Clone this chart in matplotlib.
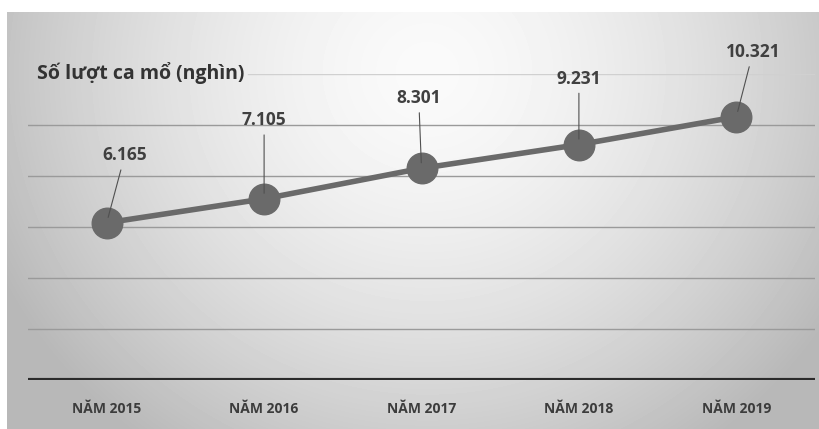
import matplotlib.pyplot as plt
import numpy as np

years = ["NĂM 2015", "NĂM 2016", "NĂM 2017", "NĂM 2018", "NĂM 2019"]
values = [6.165, 7.105, 8.301, 9.231, 10.321]
labels = ["6.165", "7.105", "8.301", "9.231", "10.321"]
# label offsets (points) from each marker
offsets = [(13, 42), (0, 50), (-2, 44), (0, 41), (12, 40)]
title = "Số lượt ca mổ (nghìn)"

W, H = 819, 429
fig = plt.figure(figsize=(W / 100, H / 100), dpi=100)
fig.patch.set_facecolor("white")

# gradient background panel
bg = fig.add_axes([7 / W, 0, 1 - 7 / W, (H - 12) / H])
yy, xx = np.mgrid[0:417, 0:812]
d = np.sqrt(((xx - 420) / 500) ** 2 + ((yy - 60) / 480) ** 2)
shade = np.clip(0.98 - 0.28 * d ** 1.6, 0.72, 0.98)
bg.imshow(shade, cmap="gray", vmin=0, vmax=1, aspect="auto", interpolation="bilinear")
bg.axis("off")

ax = fig.add_axes([28 / W, 49 / H, (815 - 28) / W, (380 - 74) / H])
ax.patch.set_alpha(0)
x = np.arange(len(years))
ax.set_xlim(-0.5, len(years) - 0.5)
ax.set_ylim(0, 12)

for g in [2, 4, 6, 8, 10]:
    ax.axhline(g, color="#9a9a9a", lw=1.0, zorder=1)
ax.axhline(12, xmin=0.28, color="#d0d0d0", lw=1.0, zorder=1)
ax.axhline(0, color="#2b2b2b", lw=3.0, zorder=2)

ax.plot(x, values, color="#6a6a6a", lw=4, marker="o", ms=22,
        markerfacecolor="#6a6a6a", markeredgecolor="#6a6a6a", zorder=3)

for xi, v, lab, off in zip(x, values, labels, offsets):
    ax.annotate(lab, (xi, v), xytext=off, textcoords="offset points",
                ha="center", va="bottom", fontsize=12.5, fontweight="bold",
                color="#404040", family="Open Sans",
                arrowprops=dict(arrowstyle="-", color="#505050", lw=0.8,
                                shrinkA=2, shrinkB=4), zorder=4)

ax.set_xticks(x)
ax.set_xticklabels(years, fontsize=10, fontweight="bold", color="#3c3c3c",
                   family="Open Sans")
ax.tick_params(axis="x", length=0, pad=16)
ax.set_yticks([])
for s in ax.spines.values():
    s.set_visible(False)

fig.text(37 / W, 1 - 73 / H, title, fontsize=14, fontweight="bold",
         color="#333333", family="Open Sans", va="center", ha="left")

fig.savefig("out.png", dpi=100)
